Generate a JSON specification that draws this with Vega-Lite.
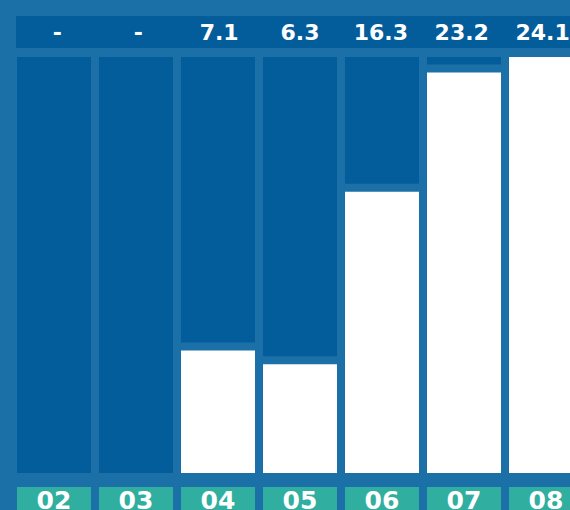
{
  "$schema": "https://vega.github.io/schema/vega-lite/v6.json",
  "padding": {"left": 16, "top": 16, "right": 0, "bottom": 0},
  "background": "#1b70a8",
  "config": {"view": {"stroke": null}},
  "data": {"values": [
    {"col": "02", "value": null, "label": "-"},
    {"col": "03", "value": null, "label": "-"},
    {"col": "04", "value": 7.1, "label": "7.1"},
    {"col": "05", "value": 6.3, "label": "6.3"},
    {"col": "06", "value": 16.3, "label": "16.3"},
    {"col": "07", "value": 23.2, "label": "23.2"},
    {"col": "08", "value": 24.1, "label": "24.1"}
  ]},
  "spacing": 9,
  "vconcat": [
    {
      "width": 554,
      "height": 32,
      "view": {"fill": "#045d9b", "stroke": null},
      "mark": {"type": "text", "font": "DejaVu Sans", "fontWeight": "bold", "fontSize": 22, "color": "white", "clip": true, "baseline": "alphabetic", "dy": 8},
      "encoding": {
        "x": {"field": "col", "type": "nominal", "axis": null, "scale": {"range": [1, 567], "paddingInner": 0.09756, "paddingOuter": 0}},
        "text": {"field": "label"}
      }
    },
    {
      "width": 554,
      "height": 416,
      "layer": [
        {
          "mark": {"type": "bar", "color": "#045d9b", "clip": true},
          "encoding": {
            "x": {"field": "col", "type": "nominal", "axis": null, "scale": {"range": [1, 567], "paddingInner": 0.09756, "paddingOuter": 0}},
            "y": {"datum": 24.1, "type": "quantitative", "axis": null, "scale": {"domain": [0, 24.1], "nice": false, "zero": true}},
            "y2": {"datum": 0}
          }
        },
        {
          "transform": [{"filter": "datum.value > 0"}],
          "mark": {"type": "bar", "color": "#1b70a8", "clip": true, "yOffset": -8},
          "encoding": {
            "x": {"field": "col", "type": "nominal", "axis": null},
            "y": {"field": "value", "type": "quantitative", "axis": null},
            "y2": {"datum": 0}
          }
        },
        {
          "transform": [{"filter": "datum.value > 0"}],
          "mark": {"type": "bar", "color": "#ffffff", "clip": true},
          "encoding": {
            "x": {"field": "col", "type": "nominal", "axis": null},
            "y": {"field": "value", "type": "quantitative", "axis": null},
            "y2": {"datum": 0}
          }
        }
      ]
    },
    {
      "width": 554,
      "height": 28,
      "layer": [
        {
          "mark": {"type": "bar", "color": "#30ae9f", "clip": true, "yOffset": 5},
          "encoding": {
            "x": {"field": "col", "type": "nominal", "axis": null, "scale": {"range": [1, 567], "paddingInner": 0.09756, "paddingOuter": 0}}
          }
        },
        {
          "mark": {"type": "text", "font": "DejaVu Sans", "fontWeight": "bold", "fontSize": 25, "color": "white", "clip": true, "baseline": "alphabetic", "dy": 13},
          "encoding": {
            "x": {"field": "col", "type": "nominal", "axis": null},
            "text": {"field": "col"}
          }
        }
      ]
    }
  ]
}
